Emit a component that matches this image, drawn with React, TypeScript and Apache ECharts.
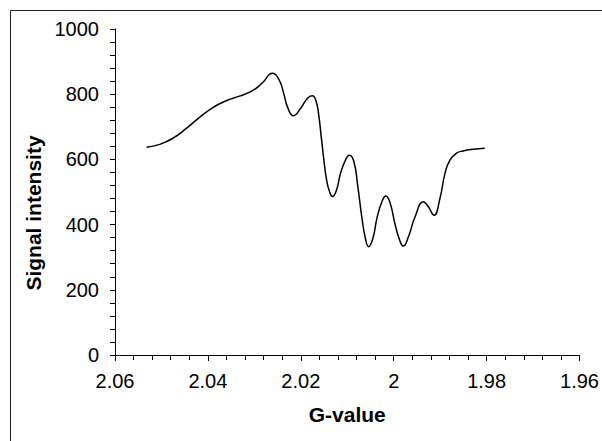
import React, { useEffect, useRef } from "react";
import * as echarts from "echarts";

const gValues = [
  2.05321, 2.05036, 2.04752, 2.04465, 2.0418, 2.03895, 2.03608, 2.03323, 2.03039, 2.02824,
  2.0261, 2.02467, 2.0236, 2.02289, 2.02161, 2.02002, 2.01861, 2.01754, 2.01668, 2.0161,
  2.01561, 2.01503, 2.01445, 2.01381, 2.01317, 2.01231, 2.01146, 2.01039, 2.00957, 2.00861,
  2.00775, 2.00683, 2.0061, 2.0054, 2.00448, 2.00362, 2.00255, 2.00169, 2.00075, 1.99968,
  1.99861, 1.99797, 1.99683, 1.9954, 1.99362, 1.99255, 1.99133, 1.99004, 1.98897, 1.9879,
  1.98649, 1.98505, 1.98291, 1.98041,
];
const intensity = [
  637, 646, 665, 695, 729, 759, 780, 794, 811, 835,
  864, 844, 798, 762, 734, 757, 787, 795, 777, 731,
  670, 598, 537, 501, 486, 506, 557, 598, 613, 595,
  519, 419, 358, 332, 358, 419, 470, 488, 465, 399,
  348, 334, 363, 424, 470, 455, 429, 481, 557, 598,
  619, 626, 631, 634,
];
const xTitle = "G-value";
const yTitle = "Signal intensity";

const FONT = "'Liberation Sans', Arial, sans-serif";

export default function App() {
  const ref = useRef<HTMLDivElement>(null);
  useEffect(() => {
    if (!ref.current) return;
    const chart = echarts.init(ref.current, null, { renderer: "svg" });
    const data = gValues.map((g, i) => [g, intensity[i]]);
    chart.setOption({
      animation: false,
      backgroundColor: "#fff",
      grid: { left: 115, top: 29, right: 20, bottom: 86, containLabel: false },
      xAxis: {
        type: "value",
        inverse: true,
        min: 1.96,
        max: 2.06,
        interval: 0.02,
        name: xTitle,
        nameLocation: "middle",
        nameGap: 49,
        nameTextStyle: { fontFamily: FONT, fontSize: 21, fontWeight: "bold", color: "#000" },
        axisLine: { lineStyle: { color: "#000", width: 1 } },
        axisTick: { inside: false, length: 6, lineStyle: { color: "#000" } },
        minorTick: { show: true, splitNumber: 5, length: 5, lineStyle: { color: "#000" } },
        splitLine: { show: false },
        axisLabel: {
          margin: 16,
          fontFamily: FONT,
          fontSize: 20,
          color: "#000",
          formatter: (v: number) => parseFloat(v.toFixed(2)).toString(),
        },
      },
      yAxis: {
        type: "value",
        min: 0,
        max: 1000,
        interval: 200,
        axisLine: { show: true, lineStyle: { color: "#000", width: 1 } },
        axisTick: { show: true, inside: false, length: 5, lineStyle: { color: "#000" } },
        minorTick: { show: true, splitNumber: 5, length: 5, lineStyle: { color: "#000" } },
        splitLine: { show: false },
        axisLabel: {
          margin: 16,
          fontFamily: FONT,
          fontSize: 20,
          color: "#000",
          formatter: (v: number) => String(v),
        },
      },
      graphic: [
        {
          type: "rect",
          shape: { x: 10.5, y: 10.5, width: 700, height: 600 },
          style: { fill: "none", stroke: "#222", lineWidth: 1 },
          silent: true,
        },
        {
          type: "text",
          x: 33,
          y: 213,
          rotation: Math.PI / 2,
          style: {
            text: yTitle,
            fontFamily: FONT,
            fontSize: 21,
            fontWeight: "bold",
            fill: "#000",
            align: "center",
            verticalAlign: "middle",
          },
        },
      ],
      series: [
        {
          type: "line",
          data,
          smooth: 0.5,
          showSymbol: false,
          lineStyle: { color: "#000", width: 1.5 },
        },
      ],
    });
    return () => chart.dispose();
  }, []);
  return (
    <div
      ref={ref}
      style={{ position: "fixed", left: 0, top: 0, width: 602, height: 441 }}
    />
  );
}
